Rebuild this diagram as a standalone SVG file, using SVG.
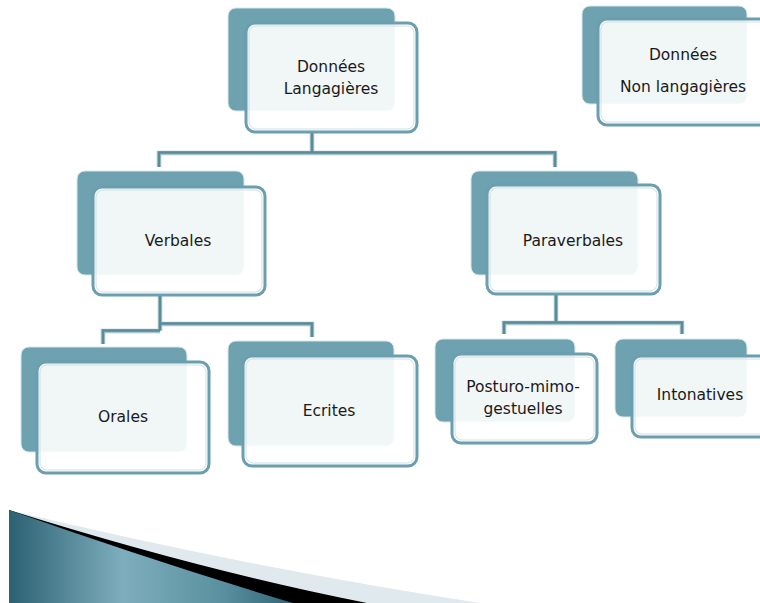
<svg xmlns="http://www.w3.org/2000/svg" width="760" height="603" viewBox="0 0 760 603">
<style>
.back{fill:#6fa2b1;stroke:#d6e6eb;stroke-width:1}
.front{fill:#ffffff;fill-opacity:0.9;stroke:#6b9eae;stroke-width:3}
.inner{fill:none;stroke:#cfe0e6;stroke-width:1}
.lbl{font-family:"DejaVu Sans","Liberation Sans",sans-serif;font-size:15.5px;fill:#1a1a1a;text-anchor:middle}
.cl{fill:none;stroke:#a8c4cd;stroke-width:4.5;stroke-linejoin:miter}
.cd{fill:none;stroke:#5a8b99;stroke-width:2.5;stroke-linejoin:miter}
</style>
<defs>
<linearGradient id="tg" x1="0" y1="0" x2="1" y2="0">
<stop offset="0" stop-color="#2c6172"/>
<stop offset="0.4" stop-color="#7eaebd"/>
<stop offset="0.75" stop-color="#5a909f"/>
<stop offset="1" stop-color="#2f6575"/>
</linearGradient>
</defs>
<rect width="760" height="603" fill="#ffffff"/>
<g id="connectors">
<path class="cl" d="M312,132 V153 M159,167 V153 H555 V167"/>
<path class="cd" d="M312,132 V152.5 M159,167 V152.5 H555 V167"/>
<path class="cl" d="M160,295 V331 M103,344 V331 H160 M160,324 H312 V337"/>
<path class="cd" d="M160,295 V330.5 M103,344 V330.5 H160 M160,323.5 H312 V337"/>
<path class="cl" d="M556,294 V323 M504,334 V323 H682 V334"/>
<path class="cd" d="M556,294 V322.5 M504,334 V322.5 H682 V334"/>
</g>
<g id="n-langagieres">
<rect class="back" x="228" y="8" width="167" height="103" rx="8"/>
<rect class="front" x="246" y="23" width="171" height="109" rx="9"/>
<rect class="inner" x="249" y="26" width="165" height="103" rx="7"/>
<text class="lbl" x="331" y="72">Données</text>
<text class="lbl" x="331" y="94">Langagières</text>
</g>
<g id="n-nonlangagieres">
<rect class="back" x="582" y="6" width="165" height="98" rx="8"/>
<rect class="front" x="598" y="19" width="180" height="106" rx="9"/>
<rect class="inner" x="601" y="22" width="174" height="100" rx="7"/>
<text class="lbl" x="683" y="60">Données</text>
<text class="lbl" x="683" y="92">Non langagières</text>
</g>
<g id="n-verbales">
<rect class="back" x="77" y="171" width="167" height="104" rx="8"/>
<rect class="front" x="93" y="187" width="172" height="108" rx="9"/>
<rect class="inner" x="96" y="190" width="166" height="102" rx="7"/>
<text class="lbl" x="178" y="246">Verbales</text>
</g>
<g id="n-paraverbales">
<rect class="back" x="471" y="171" width="167" height="104" rx="8"/>
<rect class="front" x="487" y="185" width="173" height="109" rx="9"/>
<rect class="inner" x="490" y="188" width="167" height="103" rx="7"/>
<text class="lbl" x="573" y="246">Paraverbales</text>
</g>
<g id="n-orales">
<rect class="back" x="21" y="347" width="166" height="105" rx="8"/>
<rect class="front" x="37" y="362" width="172" height="111" rx="9"/>
<rect class="inner" x="40" y="365" width="166" height="105" rx="7"/>
<text class="lbl" x="123" y="422">Orales</text>
</g>
<g id="n-ecrites">
<rect class="back" x="228" y="341" width="166" height="105" rx="8"/>
<rect class="front" x="243" y="356" width="174" height="110" rx="9"/>
<rect class="inner" x="246" y="359" width="168" height="104" rx="7"/>
<text class="lbl" x="329" y="416">Ecrites</text>
</g>
<g id="n-posturo">
<rect class="back" x="435" y="339" width="140" height="83" rx="8"/>
<rect class="front" x="452" y="354" width="145" height="89" rx="9"/>
<rect class="inner" x="455" y="357" width="139" height="83" rx="7"/>
<text class="lbl" x="523" y="392">Posturo-mimo-</text>
<text class="lbl" x="523" y="414">gestuelles</text>
</g>
<g id="n-intonatives">
<rect class="back" x="615" y="339" width="132" height="78" rx="8"/>
<rect class="front" x="632" y="356" width="150" height="81" rx="9"/>
<rect class="inner" x="635" y="359" width="144" height="75" rx="7"/>
<text class="lbl" x="700" y="400">Intonatives</text>
</g>
<g id="decoration">
<path d="M9,510 Q250,568 480,603 L9,603 Z" fill="#dfe9ee"/>
<path d="M9,510 Q200,570 367,603 L9,603 Z" fill="#000000"/>
<path d="M9,510 Q150,560 293,603 L9,603 Z" fill="url(#tg)"/>
</g>
</svg>
